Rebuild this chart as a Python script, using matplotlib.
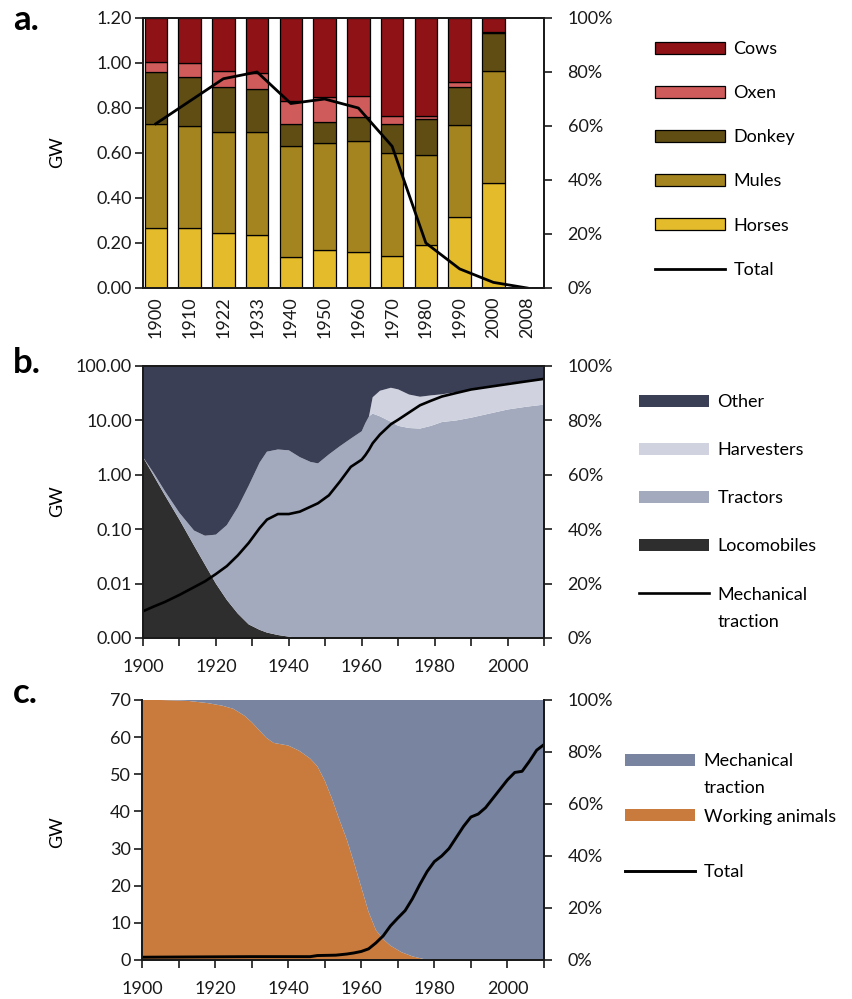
import matplotlib
matplotlib.use("Agg")
import matplotlib.pyplot as plt
import numpy as np
from matplotlib.patches import Patch
from matplotlib.lines import Line2D

plt.rcParams['font.family'] = ['Lato', 'DejaVu Sans']
FS = 13

# ---------------- data ----------------
# a. working animals: share of power by species (%) and total (GW)
a_years = ['1900', '1910', '1922', '1933', '1940', '1950', '1960', '1970', '1980', '1990', '2000', '2008']
horses = [22.2, 22.2, 20.4, 19.8, 11.5, 14.0, 13.2, 11.7, 16.0, 26.3, 38.9, 0]
mules = [38.5, 37.9, 37.3, 37.9, 41.0, 39.7, 41.1, 38.3, 33.4, 34.1, 41.3, 0]
donkey = [19.2, 17.9, 16.6, 16.0, 8.2, 7.7, 9.0, 10.7, 13.2, 13.9, 14.2, 0]
oxen = [3.7, 5.3, 5.9, 5.9, 8.4, 9.3, 7.7, 2.9, 1.2, 2.0, 0.4, 0]
cows = [16.4, 16.7, 19.8, 20.4, 30.9, 29.3, 29.0, 36.4, 36.2, 23.7, 5.2, 0]
animals_total_gw = [0.73, 0.83, 0.93, 0.96, 0.82, 0.84, 0.80, 0.63, 0.20, 0.085, 0.025, 0.0]

# b. mechanical traction: share by machine type (%) and total (GW)
b_years = [1900, 1903, 1906, 1910, 1914, 1917, 1920, 1923, 1926, 1929,
           1932, 1934, 1937, 1940, 1943, 1946, 1948, 1951, 1954, 1957,
           1960, 1961, 1962, 1963, 1965, 1968, 1970, 1973, 1976, 1979,
           1982, 1986, 1990, 1995, 2000, 2005, 2010]
locomobiles = [66.5, 59.5, 52.5, 43.5, 34.0, 27.0, 20.0, 14.0, 9.0, 5.0,
               3.0, 2.0, 1.1, 0.5, 0, 0, 0, 0, 0, 0,
               0, 0, 0, 0, 0, 0, 0, 0, 0, 0,
               0, 0, 0, 0, 0, 0, 0]
tractors = [0.0, 1.0, 1.5, 2.5, 5.5, 10.6, 18.0, 27.5, 39.0, 51.0,
            61.5, 66.5, 68.2, 68.5, 66.5, 64.7, 64.2, 67.5, 70.5, 73.3,
            76.0, 79.0, 81.5, 82.5, 81.5, 79.5, 78.0, 77.2, 77.0, 78.0,
            79.4, 80.0, 81.0, 82.5, 84.0, 85.0, 85.8]
harvesters = [0, 0, 0, 0, 0, 0, 0, 0, 0, 0,
              0, 0, 0, 0, 0, 0, 0, 0, 0, 0,
              0, 0, 0, 6.0, 9.4, 12.5, 13.4, 12.3, 11.7, 11.2,
              10.2, 10.4, 10.4, 9.9, 9.7, 9.5, 9.5]
mech_gw = [0.0031, 0.0038, 0.0046, 0.0062, 0.0086, 0.011, 0.015, 0.021, 0.033, 0.056,
           0.105, 0.15, 0.19, 0.19, 0.21, 0.26, 0.30, 0.42, 0.75, 1.4,
           1.9, 2.3, 2.9, 3.8, 5.5, 8.5, 10.3, 14.0, 19.0, 23.0,
           27.5, 32.0, 37.0, 41.5, 46.5, 52.0, 58.0]

# c. animals vs. machines: share (%) and total traction power (GW)
c_years = [1900, 1905, 1910, 1913, 1918, 1922, 1925, 1928, 1930, 1932,
           1934, 1936, 1938, 1940, 1943, 1946, 1948, 1950, 1952, 1954,
           1956, 1958, 1960, 1962, 1964, 1966, 1968, 1971, 1974, 1977,
           1980, 2010]
working_animals = [100, 100, 99.8, 99.6, 98.8, 97.8, 96.6, 94.0, 91.5, 88.5,
                   85.5, 83.5, 83.0, 82.5, 80.5, 77.5, 74.5, 69.0, 62.0, 54.0,
                   46.5, 37.5, 28.0, 18.5, 11.5, 8.0, 5.5, 3.0, 1.4, 0.4,
                   0, 0]
t_years = [1900, 1910, 1920, 1930, 1940, 1946, 1948, 1953, 1956, 1958,
           1960, 1962, 1964, 1966, 1968, 1970, 1972, 1974, 1976, 1978,
           1980, 1982, 1984, 1986, 1988, 1990, 1992, 1994, 1996, 1998,
           2000, 2002, 2004, 2006, 2008, 2010]
total_gw = [0.75, 0.8, 0.85, 0.9, 0.9, 0.9, 1.2, 1.3, 1.6, 1.9,
            2.3, 3.0, 4.6, 6.5, 9.2, 11.3, 13.3, 16.5, 20.3, 23.8,
            26.5, 28.0, 30.0, 33.0, 36.0, 38.5, 39.3, 41.0, 43.5, 46.0,
            48.5, 50.5, 50.8, 53.5, 56.5, 58.0]

# ---------------- styling ----------------
W, H = 853, 999
fig = plt.figure(figsize=(W / 100, H / 100), dpi=100)
SPINE = '#1a1a1a'


def px_axes(left, top, right, bottom):
    return fig.add_axes([left / W, 1 - bottom / H, (right - left) / W, (bottom - top) / H])


def style_pair(ax, ax2, top_spine=True):
    for a in (ax, ax2):
        for s in a.spines.values():
            s.set_color(SPINE)
            s.set_linewidth(1.3)
        a.spines['top'].set_visible(top_spine)
    ax.tick_params(axis='y', which='both', direction='out', length=6, width=1.2,
                   labelsize=FS, pad=2, colors=SPINE)
    ax.tick_params(axis='x', direction='out', length=6, width=1.2, labelsize=FS,
                   pad=9, colors=SPINE)
    ax2.tick_params(axis='y', direction='out', length=6, width=1.2, labelsize=FS,
                    pad=11, colors=SPINE)
    ax2.set_ylim(0, 100)
    ax2.set_yticks(range(0, 101, 20))
    ax2.set_yticklabels([f'{v}%' for v in range(0, 101, 20)])
    ax.set_zorder(3)
    ax.patch.set_visible(False)


def side_legend(handles, labels, x_px, top_px, spacing):
    return fig.legend(handles, labels, loc='upper left',
                      bbox_to_anchor=(x_px / W, 1 - top_px / H),
                      frameon=False, fontsize=FS, handlelength=3.9, handleheight=0.65,
                      handletextpad=0.45, labelspacing=spacing, borderpad=0,
                      borderaxespad=0)


# ---------------- a. ----------------
axA = px_axes(143, 18, 544, 288)
axA2 = axA.twinx()
xa = np.arange(len(a_years))
bottom = np.zeros(len(a_years))
a_series = [(horses, '#E4BB2B', 'Horses'), (mules, '#A3841F', 'Mules'),
            (donkey, '#5F4D14', 'Donkey'), (oxen, '#D05B5B', 'Oxen'),
            (cows, '#8E1216', 'Cows')]
for vals, col, name in a_series:
    axA2.bar(xa, vals, 0.67, bottom=bottom, color=col, edgecolor='black', linewidth=0.9)
    bottom += np.array(vals)
axA.plot(xa, animals_total_gw, color='black', lw=2.0, solid_joinstyle='round')
axA.set_ylim(0, 1.2)
axA.set_yticks(np.arange(0, 1.21, 0.2))
axA.set_yticklabels([f'{v:.2f}' for v in np.arange(0, 1.21, 0.2)])
axA.set_xlim(-0.38, 11.5)
style_pair(axA, axA2)
axA.set_xticks(xa)
axA.set_xticklabels(a_years, rotation=90)
axA.tick_params(axis='x', length=0, pad=6)

handles_a = [Patch(facecolor=c, edgecolor='black', linewidth=0.9) for _, c, _ in a_series[::-1]]
handles_a.append(Line2D([], [], color='black', lw=2.0))
labels_a = [n for _, _, n in a_series[::-1]] + ['Total']
side_legend(handles_a, labels_a, 655, 41, 1.56)

# ---------------- b. ----------------
axB = px_axes(143, 366, 544, 638)
axB2 = axB.twinx()
other = 100 - np.array(locomobiles) - np.array(tractors) - np.array(harvesters)
b_cols = ['#2E2E2E', '#A3AABE', '#D0D3DF', '#3A3F56']
axB2.stackplot(b_years, locomobiles, tractors, harvesters, other, colors=b_cols,
               linewidth=0)
axB.plot(b_years, mech_gw, color='black', lw=1.9)
axB.set_yscale('log')
axB.set_ylim(1e-3, 100)
axB.set_yticks([1e-3, 1e-2, 1e-1, 1, 10, 100])
axB.set_yticklabels(['0.00', '0.01', '0.10', '1.00', '10.00', '100.00'])
axB.minorticks_off()
axB.set_xlim(1900, 2010)
style_pair(axB, axB2)
axB.set_xticks(range(1900, 2011, 10))
axB.set_xticklabels([str(y) if y % 20 == 0 and y <= 2000 else '' for y in range(1900, 2011, 10)])

handles_b = [Patch(facecolor=b_cols[3]), Patch(facecolor=b_cols[2]),
             Patch(facecolor=b_cols[1]), Patch(facecolor=b_cols[0]),
             Line2D([], [], color='black', lw=1.9)]
labels_b = ['Other', 'Harvesters', 'Tractors', 'Locomobiles', 'Mechanical']
leg_b = side_legend(handles_b, labels_b, 639, 394, 1.78)

# ---------------- c. ----------------
axC = px_axes(142, 700, 544, 960)
axC2 = axC.twinx()
mechanical_share = 100 - np.array(working_animals)
c_cols = ['#C87B3D', '#7884A0']
axC2.stackplot(c_years, working_animals, mechanical_share, colors=c_cols, linewidth=0)
axC.plot(t_years, total_gw, color='black', lw=2.1)
axC.set_ylim(0, 70)
axC.set_yticks(range(0, 71, 10))
axC.set_xlim(1900, 2010)
style_pair(axC, axC2, top_spine=False)
axC.set_xticks(range(1900, 2011, 10))
axC.set_xticklabels([str(y) if y % 20 == 0 and y <= 2000 else '' for y in range(1900, 2011, 10)])

handles_c = [Patch(facecolor=c_cols[1]), Patch(facecolor=c_cols[0]),
             Line2D([], [], color='black', lw=2.1)]
labels_c = ['Mechanical', 'Working animals', 'Total']
leg_c = side_legend(handles_c, labels_c, 625, 753, 2.2)

# second line of the two-word legend entries
fig.canvas.draw()
inv = fig.transFigure.inverted()
for leg in (leg_b, leg_c):
    for txt in leg.get_texts():
        if txt.get_text() == 'Mechanical':
            bb = txt.get_window_extent()
            x0, y0 = inv.transform((bb.x0, bb.y0 - 27))
            fig.text(x0, y0, 'traction', fontsize=FS, va='bottom', ha='left')

# panel letters and axis titles
for letter, ybase in (('a.', 30), ('b.', 373), ('c.', 703)):
    fig.text(13 / W, 1 - ybase / H, letter, fontsize=25, fontweight='bold', va='baseline')
for yc in (152, 501, 832):
    fig.text(57 / W, 1 - yc / H, 'GW', fontsize=FS, rotation=90, ha='center', va='center')

fig.savefig('out.png', dpi=100)
